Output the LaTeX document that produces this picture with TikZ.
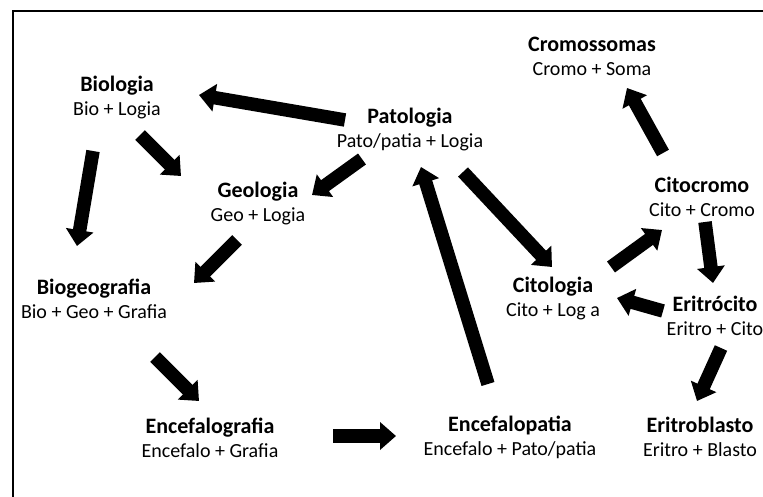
\documentclass[tikz,border=0pt]{standalone}
\usepackage{fontspec}
\setmainfont{Carlito}
\usetikzlibrary{arrows.meta}
\tikzset{
  term/.style={align=center, inner sep=0pt, text=black, font=\fontsize{20}{24}\selectfont},
  blk/.style={line width=13.5pt, black, -{Triangle[length=16pt,width=27pt]}},
  frame/.style={line width=2.6pt, black}
}
\newcommand{\ttl}[1]{{\fontsize{22}{24}\selectfont\bfseries #1}}
\begin{document}
\begin{tikzpicture}[x=1pt,y=-1pt]
\useasboundingbox (0,0) rectangle (763,497);
\fill[white] (0,0) rectangle (763,497);
\draw[frame] (13,497) -- (13,11) -- (763,11);

\node[term] (bio)   at (117,98)  {\ttl{Biologia}\\Bio + Logia};
\node[term] (pat)   at (410,130) {\ttl{Patologia}\\Pato/patia + Logia};
\node[term] (crom)  at (592,56)  {\ttl{Cromossomas}\\Cromo + Soma};
\node[term] (geo)   at (258,204) {\ttl{Geologia}\\Geo + Logia};
\node[term] (citoc) at (702,197) {\ttl{Citocromo}\\Cito + Cromo};
\node[term] (biog)  at (94,299)  {\ttl{Biogeografia}\\Bio + Geo + Grafia};
\node[term] (citol) at (553,298) {\ttl{Citologia}\\Cito + Log a};
\node[term] (erit)  at (715,316) {\ttl{Eritrócito}\\Eritro + Cito};
\node[term] (encg)  at (210,438) {\ttl{Encefalografia}\\Encefalo + Grafia};
\node[term] (encp)  at (510,437) {\ttl{Encefalopatia}\\Encefalo + Pato/patia};
\node[term] (eritb) at (700,437) {\ttl{Eritroblasto}\\Eritro + Blasto};

\draw[blk] ([shift={(-65,-10)}]pat.center) -- ([shift={(82,-3)}]bio.center);
\draw[blk] ([shift={(23,37)}]bio.center) -- ([shift={(-77,-28)}]geo.center);
\draw[blk] ([shift={(-24,53)}]bio.center) -- ([shift={(-17,-53)}]biog.center);
\draw[blk] ([shift={(-48,29)}]pat.center) -- ([shift={(54,-9)}]geo.center);
\draw[blk] ([shift={(-21,36)}]geo.center) -- ([shift={(100,-16)}]biog.center);
\draw[blk] ([shift={(61,58)}]biog.center) -- ([shift={(-11,-37)}]encg.center);
\draw[blk] ([shift={(123,-2)}]encg.center) -- ([shift={(-114,-1)}]encp.center);
\draw[blk] ([shift={(-22,-53)}]encp.center) -- ([shift={(11,37)}]pat.center);
\draw[blk] ([shift={(53,42)}]pat.center) -- ([shift={(-1,-31)}]citol.center);
\draw[blk] ([shift={(58,-31)}]citol.center) -- ([shift={(-40,33)}]citoc.center);
\draw[blk] ([shift={(-39,-44)}]citoc.center) -- ([shift={(35,32)}]crom.center);
\draw[blk] ([shift={(3,25)}]citoc.center) -- ([shift={(-2,-33)}]erit.center);
\draw[blk] ([shift={(-52,-5)}]erit.center) -- ([shift={(64,0)}]citol.center);
\draw[blk] ([shift={(6,32)}]erit.center) -- ([shift={(-3,-36)}]eritb.center);
\end{tikzpicture}
\end{document}
